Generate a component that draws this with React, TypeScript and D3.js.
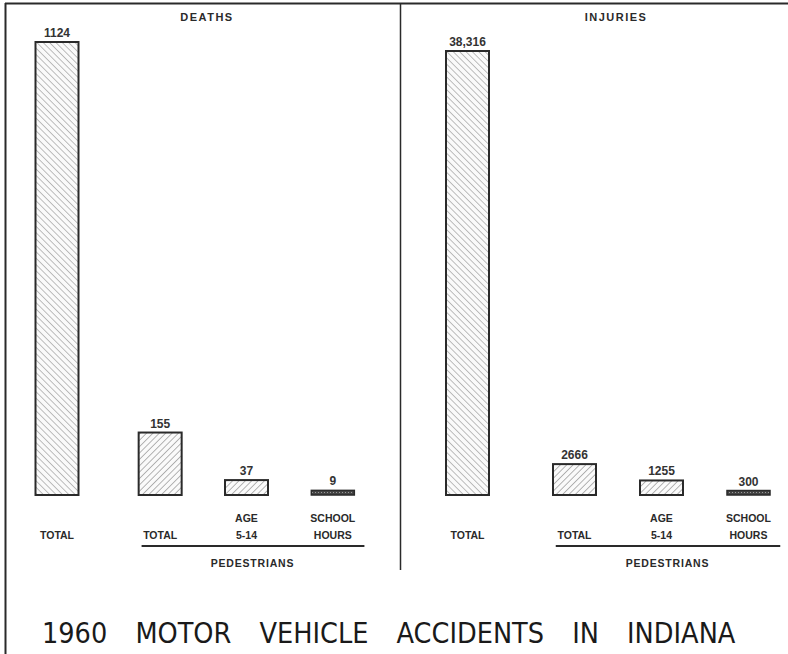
import React from 'react';
import * as d3 from 'd3';

// values
const pedestrianKeys = ['TOTAL', 'AGE\n5-14', 'SCHOOL\nHOURS'];
const deathTotal = 1124;
const deathPedestrians = [155, 37, 9];
const deathLabels = ['1124', '155', '37', '9'];
const injuryTotal = 38316;
const injuryPedestrians = [2666, 1255, 300];
const injuryLabels = ['38,316', '2666', '1255', '300'];
const panelTitles = ['DEATHS', 'INJURIES'];
const chartTitle = '1960 MOTOR VEHICLE ACCIDENTS IN INDIANA';

const W = 788;
const H = 654;
const BASE = 495;
const INK = '#2a2a2a';
const FONT = "'Liberation Sans', 'DejaVu Sans', sans-serif";
const NARROW = "'DejaVu Sans Condensed', 'Liberation Sans Narrow', 'Liberation Sans', sans-serif";

const panels = [
  { title: panelTitles[0], titleX: 207, total: deathTotal, ped: deathPedestrians, labels: deathLabels,
    totalX: 57, pedRange: [117, 376], topY: 42 },
  { title: panelTitles[1], titleX: 616, total: injuryTotal, ped: injuryPedestrians, labels: injuryLabels,
    totalX: 467.5, pedRange: [531, 792], topY: 51 },
];

const BAR_W = 43;

function Panel({ p }: { p: any }) {
  const y = d3.scaleLinear().domain([0, p.total]).range([BASE, p.topY]);
  const x = d3.scaleBand().domain(pedestrianKeys).range(p.pedRange).paddingInner(0.5).paddingOuter(0.25);
  const bw = x.bandwidth();
  const bars = [
    { key: 'ALL', cx: p.totalX, v: p.total, label: p.labels[0], cat: 'TOTAL', fill: 'url(#hatchBack)' },
    ...pedestrianKeys.map((k, i) => ({
      key: k, cx: (x(k) as number) + bw / 2, v: p.ped[i], label: p.labels[i + 1], cat: k,
      fill: i === 2 ? 'url(#dots)' : 'url(#hatchFwd)',
    })),
  ];
  const first = x(pedestrianKeys[0]) as number;
  const last = (x(pedestrianKeys[2]) as number) + bw;
  return (
    <g>
      <text x={p.titleX} y={21} textAnchor="middle" fontFamily={FONT} fontWeight="bold" fontSize={11}
        letterSpacing={1.5} fill={INK}>{p.title}</text>
      {bars.map((b) => {
        const top = y(b.v);
        const h = BASE - top;
        const thin = h < 5;
        return (
          <g key={b.key}>
            <rect x={b.cx - BAR_W / 2} y={thin ? top - 1 : top} width={BAR_W} height={thin ? h + 1 : h}
              fill={b.fill} stroke={INK} strokeWidth={thin ? 1.5 : 2} />
            <text x={b.cx} y={(thin ? top - 1 : top) - 5} textAnchor="middle" fontFamily={FONT} fontSize={12}
              fontWeight="bold" fill="#333">{b.label}</text>
            {b.cat.split('\n').reverse().map((line, j) => (
              <text key={j} x={b.cx} y={539 - j * 17} textAnchor="middle" fontFamily={FONT} fontWeight="bold"
                fontSize={10.5} fill={INK}>{line}</text>
            ))}
          </g>
        );
      })}
      <line x1={first + 3} x2={last + 10} y1={546} y2={546} stroke={INK} strokeWidth={1.8} />
      <text x={(first + last) / 2 + 6} y={567} textAnchor="middle" fontFamily={FONT} fontWeight="bold" fontSize={10.5}
        letterSpacing={0.8} fill={INK}>PEDESTRIANS</text>
    </g>
  );
}

export default function App() {
  return (
    <svg width={W} height={H} style={{ display: 'block', position: 'absolute', left: 0, top: 0, background: '#fff' }}>
      <defs>
        <pattern id="hatchBack" patternUnits="userSpaceOnUse" width={4.5} height={4.5} patternTransform="rotate(-45)">
          <rect width={4.5} height={4.5} fill="#fafafa" />
          <line x1={0} y1={0} x2={0} y2={4.5} stroke="#8a8a8a" strokeWidth={1.1} />
        </pattern>
        <pattern id="hatchFwd" patternUnits="userSpaceOnUse" width={4.5} height={4.5} patternTransform="rotate(45)">
          <rect width={4.5} height={4.5} fill="#fafafa" />
          <line x1={0} y1={0} x2={0} y2={4.5} stroke="#7a7a7a" strokeWidth={1.1} />
        </pattern>
        <pattern id="dots" patternUnits="userSpaceOnUse" width={3} height={3}>
          <rect width={3} height={3} fill="#444" />
          <rect width={1} height={1} fill="#999" />
        </pattern>
      </defs>
      <rect width={W} height={H} fill="#fff" />
      <line x1={5} x2={W} y1={3.5} y2={3.5} stroke={INK} strokeWidth={2} />
      <line x1={5.5} x2={5.5} y1={3} y2={H} stroke={INK} strokeWidth={2} />
      <line x1={400.5} x2={400.5} y1={3} y2={570} stroke={INK} strokeWidth={1.5} />
      {panels.map((p) => <Panel key={p.title} p={p} />)}
      <text x={42} y={643} fontFamily={NARROW} fontSize={28.5} wordSpacing={20} fill="#1a1a1a">{chartTitle}</text>
    </svg>
  );
}
